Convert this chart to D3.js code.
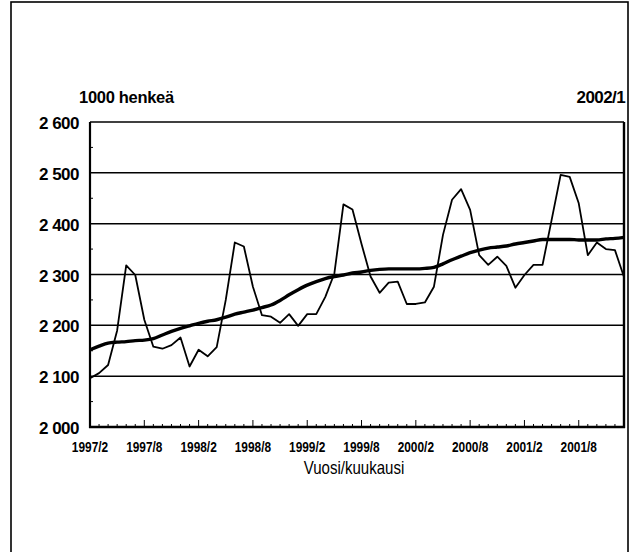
<!DOCTYPE html>
<html><head><meta charset="utf-8">
<script src="https://cdn.jsdelivr.net/npm/d3@7"></script>
<style>
html,body{margin:0;padding:0;background:#fff;}
svg{display:block;}
</style></head>
<body>
<svg id="c" width="638" height="552"></svg>
<script>
const months = ["1997/2","1997/3","1997/4","1997/5","1997/6","1997/7","1997/8","1997/9","1997/10","1997/11","1997/12","1998/1",
"1998/2","1998/3","1998/4","1998/5","1998/6","1998/7","1998/8","1998/9","1998/10","1998/11","1998/12","1999/1",
"1999/2","1999/3","1999/4","1999/5","1999/6","1999/7","1999/8","1999/9","1999/10","1999/11","1999/12","2000/1",
"2000/2","2000/3","2000/4","2000/5","2000/6","2000/7","2000/8","2000/9","2000/10","2000/11","2000/12","2001/1",
"2001/2","2001/3","2001/4","2001/5","2001/6","2001/7","2001/8","2001/9","2001/10","2001/11","2001/12","2002/1"];
const monthly = [2096,2106,2122,2190,2318,2299,2211,2158,2154,2161,2176,2119,
2152,2139,2157,2250,2363,2355,2276,2220,2217,2205,2222,2199,
2222,2222,2256,2302,2438,2428,2360,2296,2264,2284,2286,2242,
2242,2245,2276,2378,2447,2468,2427,2338,2319,2335,2317,2274,
2299,2319,2319,2407,2496,2492,2440,2338,2363,2350,2348,2295];
const trend = [2152,2159,2165,2167,2168,2170,2171,2174,2181,2188,2194,2199,
2204,2208,2211,2216,2222,2226,2230,2235,2240,2249,2260,2270,
2279,2286,2292,2296,2299,2303,2305,2308,2310,2311,2311,2311,
2311,2312,2314,2321,2329,2336,2343,2348,2352,2354,2356,2360,
2363,2366,2369,2369,2369,2369,2368,2368,2368,2370,2371,2373];
const xTickLabels = ["1997/2","1997/8","1998/2","1998/8","1999/2","1999/8","2000/2","2000/8","2001/2","2001/8"];
const yTicks = [2000,2100,2200,2300,2400,2500,2600];
const yMinor = [2050,2150,2250,2350,2450,2550];
const unitLabel = "1000 henkeä";
const dateLabel = "2002/1";
const xTitle = "Vuosi/kuukausi";

const svg = d3.select("#c");
const L=90, R=624, T=122, B=427;
const x = d3.scaleLinear().domain([0, months.length-1]).range([L, R]);
const y = d3.scaleLinear().domain([2000, 2600]).range([B, T]);
const fmt = v => { const s = String(v); return s.slice(0, s.length-3) + " " + s.slice(-3); };
const FONT = "Liberation Sans, Arial, Helvetica, sans-serif";

// outer frame
svg.append("rect").attr("x",11).attr("y",2).attr("width",617).attr("height",600)
  .attr("fill","none").attr("stroke","#000").attr("stroke-width",1.6);

// gridlines
svg.append("g").selectAll("line").data(yTicks.filter(d=>d>2000)).join("line")
  .attr("x1",L).attr("x2",R).attr("y1",d=>y(d)).attr("y2",d=>y(d))
  .attr("stroke","#000").attr("stroke-width",1.5);

// y minor ticks
svg.append("g").selectAll("line").data(yMinor).join("line")
  .attr("x1",L).attr("x2",L+3).attr("y1",d=>y(d)).attr("y2",d=>y(d))
  .attr("stroke","#000").attr("stroke-width",1);

// x ticks
const idx = d3.range(months.length);
svg.append("g").selectAll("line").data(idx).join("line")
  .attr("x1",d=>x(d)).attr("x2",d=>x(d)).attr("y1",B)
  .attr("y2",d=> xTickLabels.includes(months[d]) ? B-7 : B-3)
  .attr("stroke","#000").attr("stroke-width",1);

// axes frame
svg.append("line").attr("x1",L).attr("x2",L).attr("y1",T).attr("y2",B+1).attr("stroke","#000").attr("stroke-width",2.2);
svg.append("line").attr("x1",L-1).attr("x2",R+1).attr("y1",B).attr("y2",B).attr("stroke","#000").attr("stroke-width",2.4);
svg.append("line").attr("x1",R).attr("x2",R).attr("y1",T).attr("y2",B+1).attr("stroke","#000").attr("stroke-width",2.4);

// y labels
svg.append("g").selectAll("text").data(yTicks).join("text")
  .attr("x",79).attr("y",d=>y(d)+7).attr("text-anchor","end")
  .attr("font-family",FONT).attr("font-weight","bold")
  .attr("font-size",17).attr("letter-spacing",-0.5).text(fmt);

// x labels (condensed)
svg.append("g").selectAll("text").data(xTickLabels).join("text")
  .attr("transform",d=>`translate(${x(months.indexOf(d))},452) scale(0.82,1)`)
  .attr("text-anchor","middle")
  .attr("font-family",FONT).attr("font-weight","bold")
  .attr("font-size",14.5).text(d=>d);

svg.append("text").attr("x",79).attr("y",103)
  .attr("font-family",FONT).attr("font-weight","bold")
  .attr("font-size",16.5).attr("letter-spacing",-0.3).text(unitLabel);
svg.append("text").attr("x",625).attr("y",103).attr("text-anchor","end")
  .attr("font-family",FONT).attr("font-weight","bold")
  .attr("font-size",17).attr("letter-spacing",-0.6).text(dateLabel);
svg.append("text").attr("transform","translate(354,474) scale(0.86,1)").attr("text-anchor","middle")
  .attr("font-family",FONT)
  .attr("font-size",17.5).text(xTitle);

// series
const line = d3.line().x((d,i)=>x(i)).y(d=>y(d));
svg.append("path").datum(monthly).attr("d",line).attr("fill","none")
  .attr("stroke","#000").attr("stroke-width",1.8).attr("stroke-linejoin","round");
svg.append("path").datum(trend).attr("d",d3.line().x((d,i)=>x(i)).y(d=>y(d)).curve(d3.curveMonotoneX))
  .attr("fill","none").attr("stroke","#000").attr("stroke-width",3.4).attr("stroke-linejoin","round");
</script>
</body></html>
